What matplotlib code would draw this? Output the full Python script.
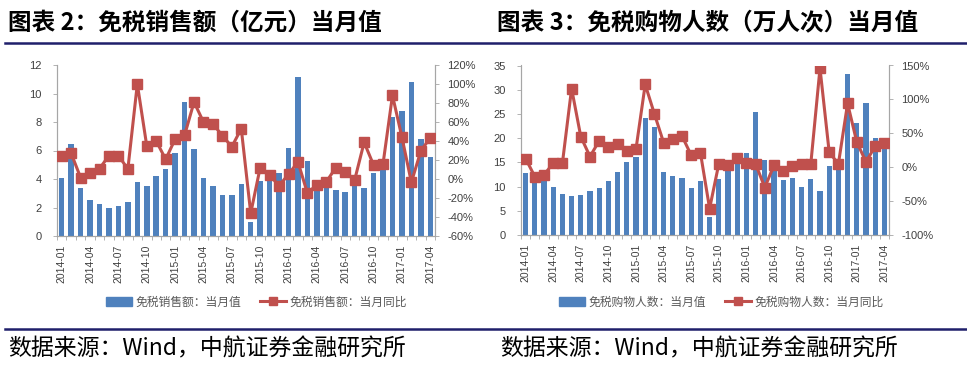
import matplotlib
matplotlib.use('Agg')
import matplotlib.pyplot as plt
from matplotlib.lines import Line2D
from matplotlib.patches import Patch
from matplotlib.ticker import FuncFormatter

plt.rcParams['font.family'] = ['Noto Sans CJK SC', 'DejaVu Sans']

# months 2014-01 .. 2017-04
months = [f"{y}-{m:02d}" for y in range(2014, 2018) for m in range(1, 13)][:40]

# chart 2: duty-free sales (100m yuan) and YoY
sales_value = [4.05, 6.43, 3.35, 2.53, 2.22, 1.96, 2.13, 2.39, 3.77, 3.49,
               4.19, 4.68, 5.82, 9.40, 6.13, 4.05, 3.49, 2.88, 2.88, 3.65,
               1.0, 3.86, 4.05, 4.4, 6.2, 11.18, 5.26, 3.58, 3.35, 3.23,
               3.1, 3.65, 3.35, 4.4, 4.87, 8.37, 8.77, 10.78, 6.78, 5.57]
sales_yoy = [24.6, 27, 1.4, 6, 11, 24.6, 24.6, 10.5, 100, 34.7,
             40, 20.7, 42, 46, 81, 60, 58, 45.6, 34, 53,
             -36, 12, 4, -7, 5, 18, -15, -6, -3, 12,
             7, -1, 38.6, 14.7, 15.8, 88, 44, -3.5, 29.5, 43.5]

# chart 3: duty-free shoppers (10k person-times) and YoY
shop_value = [12.8, 11.4, 11.55, 9.83, 8.5, 8.0, 8.3, 9.15, 9.7, 11.1,
              13.1, 15.06, 16.1, 24.1, 22.2, 13.07, 12.1, 11.76, 9.7, 11.07,
              3.7, 11.6, 13.8, 15.2, 16.9, 25.4, 15.5, 13.6, 11.4, 11.76,
              10.0, 11.6, 9.15, 14.2, 14.5, 33.2, 23.1, 27.2, 20.0, 19.2]
shop_yoy = [12.8, -13.8, -11.3, 5.9, 5.9, 116, 45, 15.7, 39, 29.5,
            34, 24.6, 27, 122, 78.6, 36.3, 42, 46, 17.7, 21.6,
            -61, 4.9, 3.4, 14, 5.9, 4.9, -30, 2.9, -4.9, 2,
            4.9, 4.9, 146, 22, 4.9, 94, 37, 7.9, 31, 36]

BAR = '#4F81BD'
LINE = '#C0504D'
AXC = '#A6A6A6'
TXT = '#404040'
NAVY = '#1F1F6B'

W, H = 967, 369
fig = plt.figure(figsize=(W / 100, H / 100), dpi=100)


def px(x0, y_top, x1, y_bot):
    return [x0 / W, (H - y_bot) / H, (x1 - x0) / W, (y_bot - y_top) / H]


def panel(rect, values, yoy, ymax, ystep, rmin, rmax, rstep, bar_label, line_label, leg_x):
    ax = fig.add_axes(rect)
    x = list(range(len(values)))
    ax.bar(x, values, width=0.58, color=BAR, zorder=2)
    ax.set_xlim(-0.5, len(values) - 0.5)
    ax.set_ylim(0, ymax)
    ax.set_yticks(range(0, ymax + 1, ystep))
    ax2 = ax.twinx()
    ax2.plot(x, yoy, color=LINE, linewidth=2.2, marker='s', markersize=7,
             markerfacecolor=LINE, markeredgecolor=LINE, zorder=3)
    ax2.set_ylim(rmin, rmax)
    ax2.set_yticks(range(rmin, rmax + 1, rstep))
    ax2.yaxis.set_major_formatter(FuncFormatter(lambda v, p: f"{int(v)}%"))
    for a in (ax, ax2):
        a.spines['top'].set_visible(False)
        for s in ('left', 'right', 'bottom'):
            a.spines[s].set_color(AXC)
            a.spines[s].set_linewidth(0.8)
        a.tick_params(axis='y', colors=TXT, labelsize=8, length=3, width=0.6)
        for t in a.get_yticklabels():
            t.set_fontfamily('Liberation Sans')
    ax.tick_params(axis='y', colors=AXC, labelcolor=TXT, pad=8)
    ax2.tick_params(axis='y', colors=AXC, labelcolor=TXT, pad=6)
    ax.set_xticks(x[::3])
    ax.set_xticklabels(months[::3], rotation=90, fontsize=7.5, color=TXT,
                       fontfamily='Liberation Sans')
    ax.set_xticks([i - 0.5 for i in range(len(values) + 1)], minor=True)
    ax.tick_params(axis='x', which='major', length=0, pad=6)
    ax.tick_params(axis='x', which='minor', length=3, color=AXC, width=0.6)
    ax2.tick_params(axis='x', which='both', length=0)

    handles = [Patch(facecolor=BAR, edgecolor=BAR),
               Line2D([0], [0], color=LINE, linewidth=2.2, marker='s', markersize=6)]
    fig.legend(handles, [bar_label, line_label], loc='center left',
               bbox_to_anchor=(leg_x / W, (H - 302) / H), ncol=2, frameon=False,
               fontsize=8.5, labelcolor='#595959', handlelength=2.2,
               columnspacing=1.6, handletextpad=0.3)
    return ax


panel(px(57, 65, 435, 236), sales_value, sales_yoy, 12, 2, -60, 120, 20,
      '免税销售额：当月值', '免税销售额：当月同比', 95)
panel(px(521, 65.5, 889, 235), shop_value, shop_yoy, 35, 5, -100, 150, 50,
      '免税购物人数：当月值', '免税购物人数：当月同比', 548)

# headers and source lines
fig.text(8 / W, (H - 23) / H, '图表 2：免税销售额（亿元）当月值', fontsize=17,
         fontweight='bold', va='center', ha='left', color='black')
fig.text(497 / W, (H - 23) / H, '图表 3：免税购物人数（万人次）当月值', fontsize=17,
         fontweight='bold', va='center', ha='left', color='black')
fig.add_artist(Line2D([5 / W, 1], [(H - 43) / H] * 2, color=NAVY, linewidth=1.8))
fig.add_artist(Line2D([5 / W, 1], [(H - 329) / H] * 2, color=NAVY, linewidth=1.8))
fig.text(8 / W, (H - 349) / H, '数据来源：Wind，中航证券金融研究所', fontsize=16.5,
         va='center', ha='left', color='black')
fig.text(500 / W, (H - 349) / H, '数据来源：Wind，中航证券金融研究所', fontsize=16.5,
         va='center', ha='left', color='black')

fig.savefig('out.png', dpi=100)
